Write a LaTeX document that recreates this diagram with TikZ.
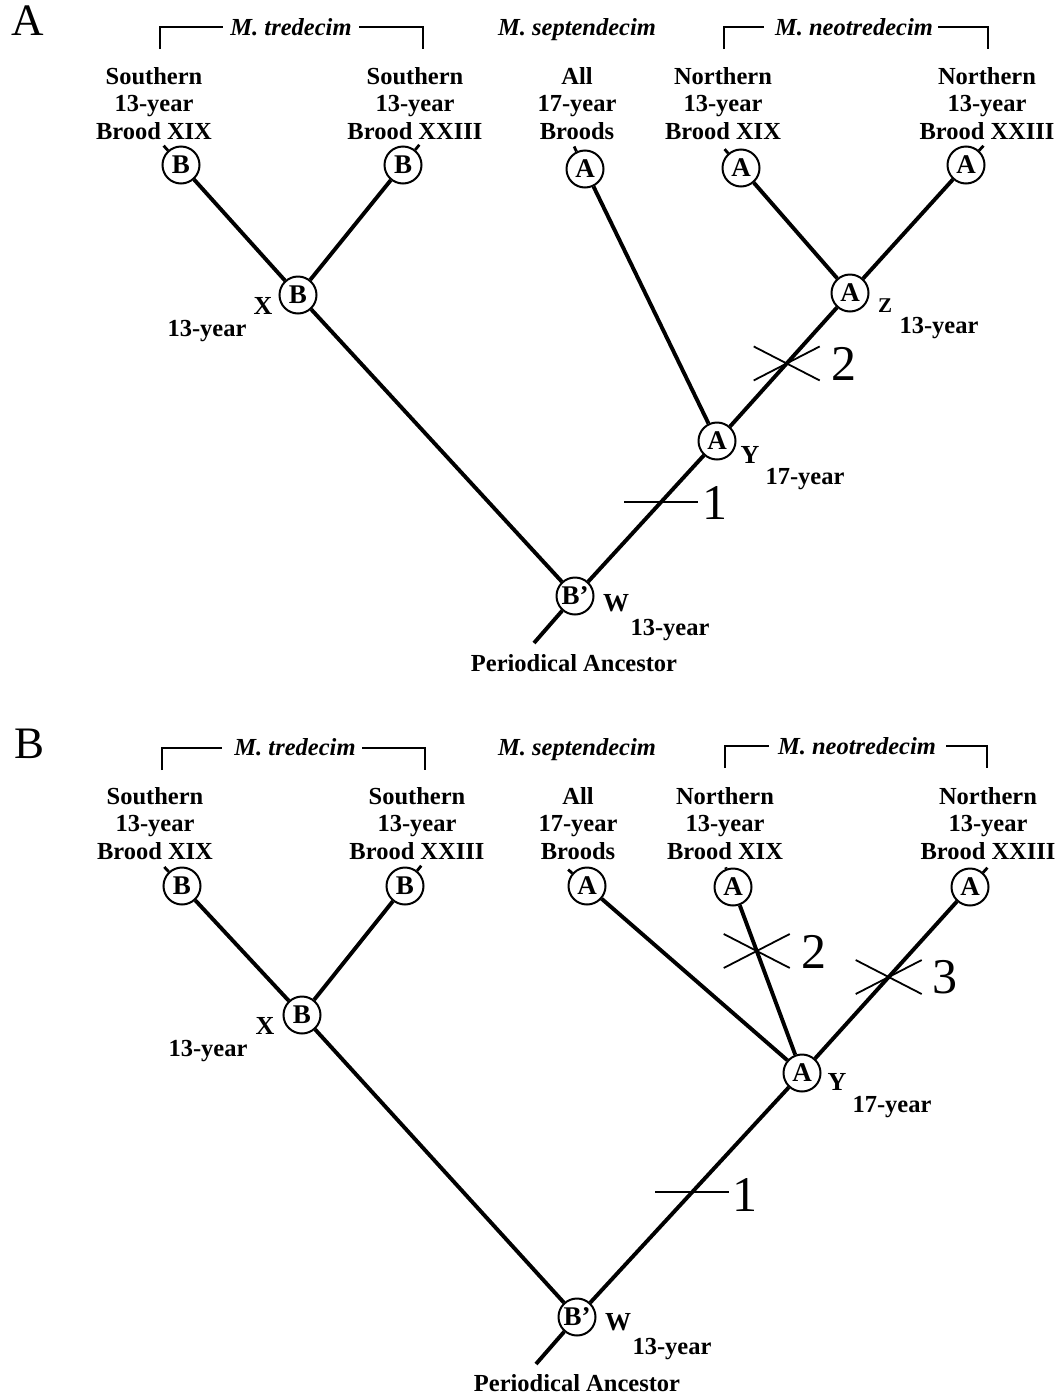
\documentclass[tikz,border=0pt]{standalone}
\usepackage{fontspec}
\setmainfont{Liberation Serif}
\usetikzlibrary{calc}
\tikzset{
  branch/.style={line width=3.9pt},
  tipmark/.style={line width=2.8pt},
  circ/.style={circle, draw, line width=2pt, minimum size=37pt, inner sep=0pt, fill=white,
    font=\fontsize{27}{27}\selectfont\bfseries},
  lab/.style={font=\fontsize{24.5}{27}\selectfont\bfseries, inner sep=0pt, anchor=base},
  spec/.style={font=\fontsize{24.5}{27}\selectfont\bfseries\itshape, inner sep=0pt, anchor=base},
  letter/.style={font=\fontsize{26}{26}\selectfont\bfseries, inner sep=0pt},
  smallletter/.style={font=\fontsize{21}{21}\selectfont\bfseries, inner sep=0pt},
  num/.style={font=\fontsize{50}{50}\selectfont, inner sep=0pt},
  tally/.style={line width=1.8pt},
  brk/.style={line width=1.7pt},
  panel/.style={font=\fontsize{45}{45}\selectfont, inner sep=0pt},
}
\newcommand{\tiplab}[6]{%
  \node[lab] (#1-a) at (#2,#3) {#4};
  \node[lab] (#1-b) at (#2,#3+27.5) {#5};
  \node[lab] (#1-c) at (#2,#3+55) {#6};
}
\begin{document}
\begin{tikzpicture}[x=1pt,y=-1pt]
\useasboundingbox (0,0) rectangle (1059,1395);

% ================= Panel A =================
\node[panel] (PA) at (28,21) {A};
\node[spec] (tredA) at (291,35) {M. tredecim};
\draw[brk] (160,49) |- (223,27);
\draw[brk] (359,27) -| (423,49);
\node[spec] (septA) at (577,35) {M. septendecim};
\node[spec] (neoA) at (854,35) {M. neotredecim};
\draw[brk] (724,49) |- (764,27);
\draw[brk] (938,27) -| (988,49);

\tiplab{la1}{154}{84}{Southern}{13-year}{Brood XIX}
\tiplab{la2}{415}{84}{Southern}{13-year}{Brood XXIII}
\tiplab{la3}{577}{84}{All}{17-year}{Broods}
\tiplab{la4}{723}{84}{Northern}{13-year}{Brood XIX}
\tiplab{la5}{987}{84}{Northern}{13-year}{Brood XXIII}

\node[circ] (a1) at (181,165) {B};
\node[circ] (a2) at (403,165) {B};
\node[circ] (a3) at (585,169) {A};
\node[circ] (a4) at (741,168) {A};
\node[circ] (a5) at (966,165) {A};
\node[circ] (aX) at (298,295) {B};
\node[circ] (aZ) at (850,293) {A};
\node[circ] (aY) at (717,441) {A};
\node[circ] (aW) at (575,596) {B’};
\coordinate (aR) at (534,643);

\draw[branch] (aX) -- (a1);
\draw[branch] (aX) -- (a2);
\draw[branch] (aZ) -- (a4);
\draw[branch] (aZ) -- (a5);
\draw[branch] (aY) -- (a3);
\draw[branch] (aY) -- (aZ);
\draw[branch] (aW) -- (aX);
\draw[branch] (aW) -- (aY);
\draw[branch] (aW) -- (aR);

\draw[tipmark] (a1) -- ($(a1)!-26pt!(aX)$);
\draw[tipmark] (a2) -- ($(a2)!-26pt!(aX)$);
\draw[tipmark] (a3) -- ($(a3)!-25pt!(aY)$);
\draw[tipmark] (a4) -- ($(a4)!-25pt!(aZ)$);
\draw[tipmark] (a5) -- ($(a5)!-26pt!(aZ)$);

\node[letter] (aXl) at (263,306) {X};
\node[lab] (aXt) at (207,336) {13-year};
\node[smallletter] (aZl) at (885,306) {Z};
\node[lab] (aZt) at (939,333) {13-year};
\node[letter] (aYl) at (750,455) {Y};
\node[lab] (aYt) at (805,484) {17-year};
\node[letter] (aWl) at (616,603) {W};
\node[lab] (aWt) at (670,635) {13-year};
\node[lab] (aPA) at (574,671) {Periodical Ancestor};

\coordinate (am1) at ($(aW)!0.606!(aY)$);
\draw[tally] ($(am1)+(-37,0)$) -- ($(am1)+(37,0)$);
\node[num] (an1) at ($(am1)+(54,1)$) {1};
\coordinate (am2) at ($(aY)!0.524!(aZ)$);
\draw[tally] ($(am2)+(-33,-17)$) -- ($(am2)+(33,17)$);
\draw[tally] ($(am2)+(-33,17)$) -- ($(am2)+(33,-17)$);
\node[num] (an2) at ($(am2)+(57,0)$) {2};

% ================= Panel B =================
\node[panel] (PB) at (30,744) {B};
\node[spec] (tredB) at (295,755) {M. tredecim};
\draw[brk] (162,770) |- (222,748);
\draw[brk] (362,748) -| (425,770);
\node[spec] (septB) at (577,755) {M. septendecim};
\node[spec] (neoB) at (857,754) {M. neotredecim};
\draw[brk] (725,768) |- (769,746);
\draw[brk] (946,746) -| (987,768);

\tiplab{lb1}{155}{804}{Southern}{13-year}{Brood XIX}
\tiplab{lb2}{417}{804}{Southern}{13-year}{Brood XXIII}
\tiplab{lb3}{578}{804}{All}{17-year}{Broods}
\tiplab{lb4}{725}{804}{Northern}{13-year}{Brood XIX}
\tiplab{lb5}{988}{804}{Northern}{13-year}{Brood XXIII}

\node[circ] (b1) at (182,886) {B};
\node[circ] (b2) at (405,886) {B};
\node[circ] (b3) at (587,886) {A};
\node[circ] (b4) at (733,887) {A};
\node[circ] (b5) at (970,887) {A};
\node[circ] (bX) at (302,1015) {B};
\node[circ] (bY) at (802,1073) {A};
\node[circ] (bW) at (577,1317) {B’};
\coordinate (bR) at (536,1364);

\draw[branch] (bX) -- (b1);
\draw[branch] (bX) -- (b2);
\draw[branch] (bY) -- (b3);
\draw[branch] (bY) -- (b4);
\draw[branch] (bY) -- (b5);
\draw[branch] (bW) -- (bX);
\draw[branch] (bW) -- (bY);
\draw[branch] (bW) -- (bR);

\draw[tipmark] (b1) -- ($(b1)!-26pt!(bX)$);
\draw[tipmark] (b2) -- ($(b2)!-26pt!(bX)$);
\draw[tipmark] (b3) -- ($(b3)!-25pt!(bY)$);
\draw[tipmark] (b4) -- ($(b4)!-21pt!(bY)$);
\draw[tipmark] (b5) -- ($(b5)!-26pt!(bY)$);

\node[letter] (bXl) at (265,1026) {X};
\node[lab] (bXt) at (208,1056) {13-year};
\node[letter] (bYl) at (837,1082) {Y};
\node[lab] (bYt) at (892,1112) {17-year};
\node[letter] (bWl) at (618,1322) {W};
\node[lab] (bWt) at (672,1354) {13-year};
\node[lab] (bPA) at (577,1391) {Periodical Ancestor};

\coordinate (bm1) at ($(bW)!0.512!(bY)$);
\draw[tally] ($(bm1)+(-37,0)$) -- ($(bm1)+(37,0)$);
\node[num] (bn1) at ($(bm1)+(53,3)$) {1};
\coordinate (bm2) at ($(bY)!0.656!(b4)$);
\draw[tally] ($(bm2)+(-33,-17)$) -- ($(bm2)+(33,17)$);
\draw[tally] ($(bm2)+(-33,17)$) -- ($(bm2)+(33,-17)$);
\node[num] (bn2) at ($(bm2)+(57,1)$) {2};
\coordinate (bm3) at ($(bY)!0.516!(b5)$);
\draw[tally] ($(bm3)+(-33,-17)$) -- ($(bm3)+(33,17)$);
\draw[tally] ($(bm3)+(-33,17)$) -- ($(bm3)+(33,-17)$);
\node[num] (bn3) at ($(bm3)+(56,0)$) {3};
\end{tikzpicture}
\end{document}
